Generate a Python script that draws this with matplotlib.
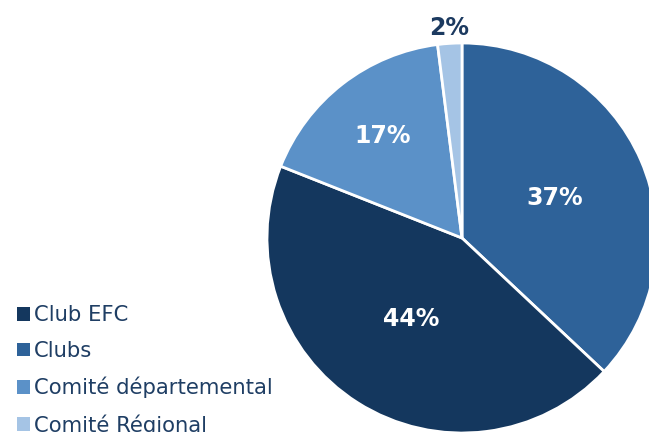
import numpy as np
import matplotlib.pyplot as plt
from matplotlib.patches import Patch

# slices in drawing order (clockwise from top)
labels = ["Clubs", "Club EFC", "Comité départemental", "Comité Régional"]
values = [37, 44, 17, 2]
colors = ["#2E6299", "#14375E", "#5B91C8", "#A5C4E5"]
pct_dist = [0.52, 0.49, 0.66, 1.08]
pct_colors = ["white", "white", "white", "#1C3A60"]

legend_order = ["Club EFC", "Clubs", "Comité départemental", "Comité Régional"]

plt.rcParams['font.family'] = ['DejaVu Sans']

fig = plt.figure(figsize=(6.49, 4.32), dpi=100)
ax = fig.add_axes([0, 0, 1, 1])

wedges, _ = ax.pie(values, colors=colors, startangle=90, counterclock=False,
                   center=(462, 432 - 238), radius=195, frame=True,
                   wedgeprops=dict(edgecolor="white", linewidth=2))

for w, v, d, c in zip(wedges, values, pct_dist, pct_colors):
    ang = np.deg2rad((w.theta1 + w.theta2) / 2)
    x = w.center[0] + d * w.r * np.cos(ang)
    y = w.center[1] + d * w.r * np.sin(ang)
    ax.text(x, y, f"{v}%", ha="center", va="center", color=c,
            fontsize=17, fontweight="bold")

ax.set_xlim(0, 649)
ax.set_ylim(0, 432)
ax.set_aspect("equal")
ax.axis("off")

handles = [Patch(facecolor=colors[labels.index(l)], edgecolor="none") for l in legend_order]
leg = fig.legend(handles, legend_order, loc="upper left", bbox_to_anchor=(0.01, 0.318),
                 frameon=False, fontsize=15.2, handlelength=0.62, handleheight=0.62,
                 handletextpad=0.2, labelspacing=0.75, borderpad=0)
for t in leg.get_texts():
    t.set_color("#1F3E64")

fig.savefig("out.png", dpi=100)
